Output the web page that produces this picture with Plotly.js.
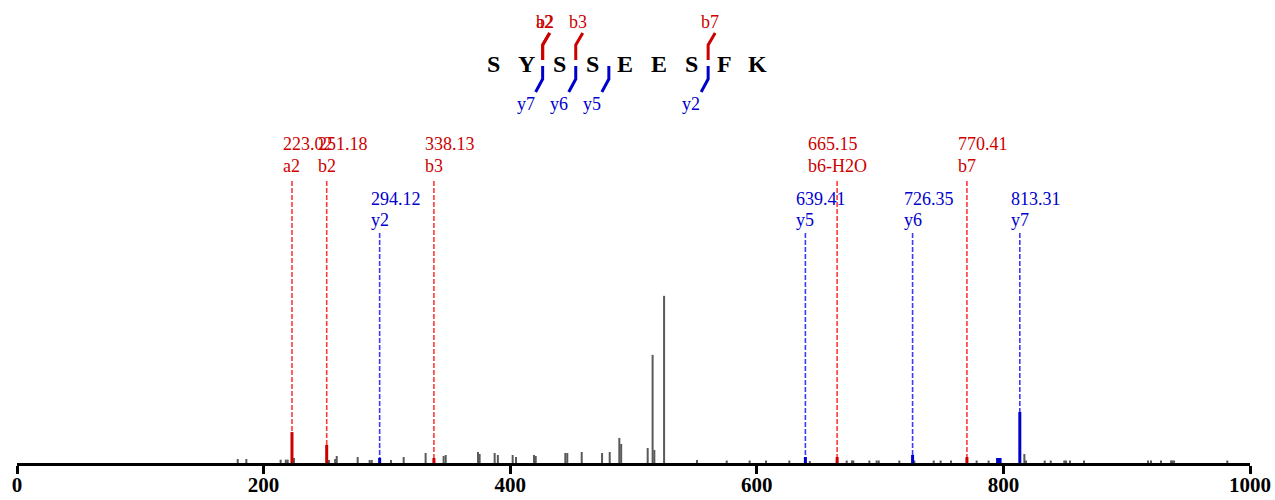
<!DOCTYPE html>
<html>
<head>
<meta charset="utf-8">
<script src="https://cdn.plot.ly/plotly-3.0.1.min.js"></script>
<style>html,body{margin:0;padding:0;background:#fff;}#chart{width:1275px;height:500px;}</style>
</head>
<body>
<div id="chart"></div>
<script>
// ---------- DATA ----------
// unmatched (gray) peaks
const otherMz = [179, 186, 213.8, 218, 219.5, 224.6, 253, 258, 259.3, 276.3, 286, 287.7, 303.3, 313.6,
  331.4, 346, 347.7, 373.9, 375.2, 387.4, 390, 402, 404.7, 419.3, 420.7, 444.7, 446.3, 458, 474.5, 480.7,
  488.5, 490, 511.5, 515.5, 516.9, 524.8, 551.5, 575.6, 594.2, 607.5, 626.4, 643, 665, 672.9, 677.2, 678.3,
  691.3, 697.2, 698.9, 715.6, 727.8, 743.5, 749.1, 757.5, 778.3, 788, 817, 818.3, 833.5, 838.4, 849.4,
  850.8, 854, 865.4, 917.3, 919.7, 927.8, 936, 937, 938.4, 981.6];
const otherInt = [2.4, 2.4, 2.0, 2.0, 2.0, 3.0, 1.8, 2.4, 4.2, 3.6, 1.8, 1.8, 1.8, 3.6,
  6.0, 4.2, 4.8, 6.6, 5.4, 6.0, 4.8, 4.8, 3.6, 4.8, 4.2, 6.0, 6.0, 6.6, 6.0, 6.6,
  15.0, 11.4, 9.0, 64.7, 7.8, 100, 1.8, 1.5, 1.5, 1.5, 1.5, 1.2, 1.8, 1.5, 1.5, 1.5,
  1.5, 1.5, 1.5, 1.5, 1.5, 1.5, 1.5, 1.5, 1.5, 1.5, 5.4, 1.5, 1.5, 1.5, 1.5,
  1.5, 1.5, 1.5, 1.5, 1.5, 1.5, 1.5, 1.5, 1.5, 1.5];

// matched, labelled fragment ions
const ionMz    = [223.02, 251.18, 338.13, 665.15, 770.41, 294.12, 639.41, 726.35, 813.31];
const ionName  = ['a2', 'b2', 'b3', 'b6-H2O', 'b7', 'y2', 'y5', 'y6', 'y7'];
const ionSeries= ['b', 'b', 'b', 'b', 'b', 'y', 'y', 'y', 'y'];
const ionInt   = [18.5, 10.8, 3.0, 3.6, 3.6, 3.0, 3.6, 4.8, 30.5];

// matched, unlabelled y-series peaks
const extraYMz  = [795.3, 796.3, 797.3];
const extraYInt = [3.0, 3.0, 3.0];

// peptide sequence and fragment coverage
const sequence   = ['S', 'Y', 'S', 'S', 'E', 'E', 'S', 'F', 'K'];
const nFragPos   = [2, 2, 3, 7];
const nFragLabel = ['a2', 'b2', 'b3', 'b7'];
const cFragPos   = [2, 3, 4, 7];
const cFragLabel = ['y7', 'y6', 'y5', 'y2'];

const xTicks = [0, 200, 400, 600, 800, 1000];

// ---------- STYLE / LAYOUT ----------
const W = 1275, H = 500;
const M = {l: 17, r: 25, t: 0, b: 37};
const PW = W - M.l - M.r, PH = H - M.t - M.b;
const YMAX = 277;
const RED = '#cc0000', BLUE = '#0000cc', GRAY = '#5a5a5a';
const RED_D = '#ff3b3b', BLUE_D = '#3b3bff';
const SERIF = '"Liberation Serif", "Times New Roman", serif';
const FS = 18;

const px2x = px => (px - M.l) / PW;          // paper x from pixel
const py2y = py => (M.t + PH - py) / PH;     // paper y from pixel

const ctx = document.createElement('canvas').getContext('2d');
ctx.font = FS + 'px "Liberation Serif"';
const tw = s => ctx.measureText(s).width;

function stems(xs, ys) {
  const X = [], Y = [];
  xs.forEach((x, i) => { X.push(x, x, null); Y.push(0, ys[i], null); });
  return {X, Y};
}

const traces = [];
const g = stems(otherMz, otherInt);
traces.push({x: g.X, y: g.Y, mode: 'lines', line: {color: GRAY, width: 2}, hoverinfo: 'skip', showlegend: false});
['b', 'y'].forEach(s => {
  const xs = [], ys = [];
  ionMz.forEach((m, i) => { if (ionSeries[i] === s) { xs.push(m); ys.push(ionInt[i]); } });
  if (s === 'y') { extraYMz.forEach((m, i) => { xs.push(m); ys.push(extraYInt[i]); }); }
  const st = stems(xs, ys);
  traces.push({x: st.X, y: st.Y, mode: 'lines', line: {color: s === 'b' ? RED : BLUE, width: 3}, hoverinfo: 'skip', showlegend: false});
});

const shapes = [], annotations = [];

// ion labels and dashed guide lines
ionMz.forEach((m, i) => {
  const isB = ionSeries[i] === 'b';
  const col = isB ? RED : BLUE;
  const topPx = isB ? 181 : 233;
  const numPx = isB ? 144 : 199;
  const namePx = isB ? 166 : 220;
  shapes.push({type: 'line', layer: 'below', xref: 'x', yref: 'paper', x0: m, x1: m, y0: py2y(topPx), y1: 0,
    line: {color: isB ? RED_D : BLUE_D, width: 1.6, dash: '5px,2px'}});
  annotations.push({xref: 'x', yref: 'paper', x: m, y: py2y(namePx), text: ionName[i], showarrow: false,
    xanchor: 'center', yanchor: 'middle', font: {family: SERIF, size: FS, color: col}});
  annotations.push({xref: 'x', yref: 'paper', x: m, y: py2y(numPx), text: ionMz[i].toFixed(2), showarrow: false,
    xanchor: 'left', yanchor: 'middle', xshift: -tw(ionName[i]) / 2 - 2, font: {family: SERIF, size: FS, color: col}});
});

// peptide sequence
const SEQ_X0 = 493, SEQ_DX = 33.1, SEQ_Y = 64;
const letterPx = i => SEQ_X0 + SEQ_DX * i;
sequence.forEach((aa, i) => {
  annotations.push({xref: 'paper', yref: 'paper', x: px2x(letterPx(i)), y: py2y(SEQ_Y), text: '<b>' + aa + '</b>',
    showarrow: false, xanchor: 'center', yanchor: 'middle', font: {family: SERIF, size: 24, color: '#000'}});
});
const cutPx = p => (letterPx(p - 1) + letterPx(p)) / 2;
nFragPos.forEach((p, k) => {
  const x = cutPx(p);
  shapes.push({type: 'path', xref: 'paper', yref: 'paper',
    path: `M ${px2x(x)} ${py2y(60)} L ${px2x(x)} ${py2y(45)} L ${px2x(x + 7)} ${py2y(33)}`,
    line: {color: RED, width: 3}});
  annotations.push({xref: 'paper', yref: 'paper', x: px2x(x + 2), y: py2y(22), text: nFragLabel[k], showarrow: false,
    xanchor: 'center', yanchor: 'middle', font: {family: SERIF, size: FS, color: RED}});
});
cFragPos.forEach((p, k) => {
  const x = cutPx(p);
  shapes.push({type: 'path', xref: 'paper', yref: 'paper',
    path: `M ${px2x(x)} ${py2y(66)} L ${px2x(x)} ${py2y(79)} L ${px2x(x - 7)} ${py2y(92)}`,
    line: {color: BLUE, width: 3}});
  annotations.push({xref: 'paper', yref: 'paper', x: px2x(x - 17), y: py2y(104), text: cFragLabel[k], showarrow: false,
    xanchor: 'center', yanchor: 'middle', font: {family: SERIF, size: FS, color: BLUE}});
});

const layout = {
  width: W, height: H,
  margin: M,
  paper_bgcolor: '#fff', plot_bgcolor: '#fff',
  showlegend: false,
  xaxis: {range: [0, 1000], tickvals: xTicks, ticktext: xTicks.map(String), showgrid: false, zeroline: false,
    showline: true, linecolor: '#000', linewidth: 3, ticks: 'outside', ticklen: 8, tickwidth: 3, tickcolor: '#000',
    ticklabelstandoff: -7,
    tickfont: {family: SERIF, size: 21, color: '#000', weight: 'bold'}},
  yaxis: {range: [0, YMAX], visible: false, showgrid: false, zeroline: false, fixedrange: true},
  shapes: shapes,
  annotations: annotations
};

Plotly.newPlot('chart', traces, layout, {staticPlot: true, displayModeBar: false});
</script>
</body>
</html>
